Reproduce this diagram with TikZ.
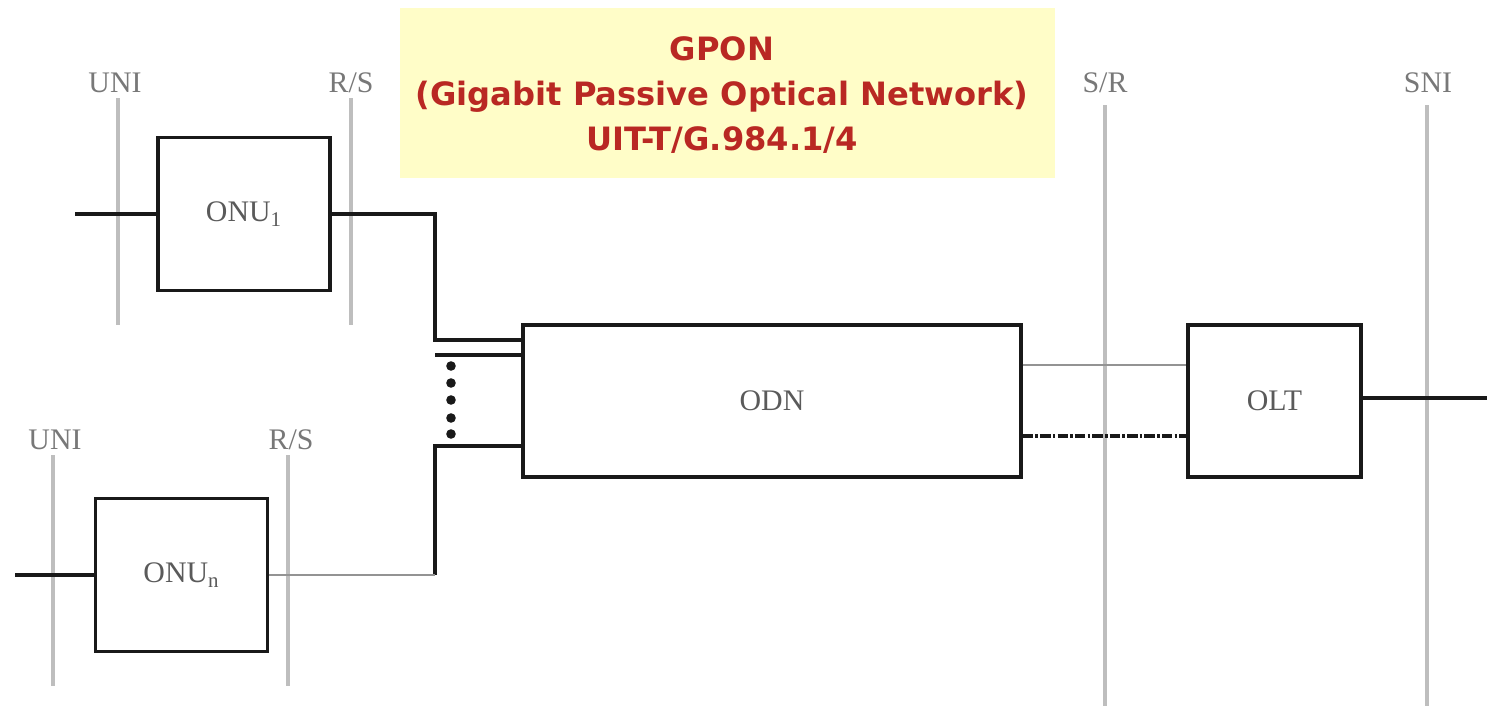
\documentclass[tikz,border=0pt]{standalone}
\usepackage{fontspec}
\setmainfont{Liberation Serif}
\newfontfamily\titlefont{DejaVu Sans}
\usepackage{xcolor}
\usetikzlibrary{positioning, calc}
\definecolor{gpRef}{RGB}{190,190,190}
\definecolor{gpLabel}{RGB}{120,120,120}
\definecolor{gpText}{RGB}{90,90,90}
\definecolor{gpTitle}{RGB}{185,40,35}
\definecolor{gpNote}{RGB}{255,253,200}
\definecolor{gpInk}{RGB}{25,25,25}

\begin{document}
\begin{tikzpicture}[x=0.02cm,y=-0.02cm,
  unit/.style={draw=gpInk,line width=2pt,fill=white,text=gpText,
               font=\fontsize{17}{20}\selectfont,inner sep=0pt},
  onu/.style={unit,minimum width=3.44cm,minimum height=3.06cm},
  refline/.style={draw=gpRef,line width=2.8pt},
  reflabel/.style={text=gpLabel,font=\fontsize{17}{19}\selectfont,inner sep=0pt},
  fib/.style={draw=gpInk,line width=2.1pt},
  thinfib/.style={draw=gray!85,line width=1.4pt},
  dashfib/.style={draw=gpInk,line width=2pt,
                  dash pattern=on 6pt off 1.2pt on 1.5pt off 1.2pt}]
\useasboundingbox (0,0) rectangle (1487,706);

% Title note
\node[fill=gpNote,minimum width=13.1cm,minimum height=3.4cm] (note) at (727.5,93) {};
\node[text=gpTitle,font=\titlefont\bfseries\fontsize{18.3}{25.5}\selectfont,align=center]
  (title) at (722,95) {GPON\\(Gigabit Passive Optical Network)\\UIT-T/G.984.1/4};

% Reference points (grey lines)
\node[reflabel] (uniA) at (115,83) {UNI};
\node[reflabel] (rsA)  at (351,83) {R/S};
\node[reflabel] (uniB) at (55,440) {UNI};
\node[reflabel] (rsB)  at (291,440) {R/S};
\node[reflabel] (sr)   at (1105,83) {S/R};
\node[reflabel] (sni)  at (1428,83) {SNI};
\coordinate (uniAend) at (118,325);
\coordinate (rsAend)  at (351,325);
\coordinate (uniBend) at (53,686);
\coordinate (rsBend)  at (288,686);
\coordinate (srend)   at (1105,706);
\coordinate (sniend)  at (1427,706);
\draw[refline] (uniA.south -| uniAend) ++(0,5) -- (uniAend);
\draw[refline] (rsA.south -| rsAend) ++(0,5) -- (rsAend);
\draw[refline] (uniB.south -| uniBend) ++(0,5) -- (uniBend);
\draw[refline] (rsB.south -| rsBend) ++(0,5) -- (rsBend);
\draw[refline] (sr.south -| srend) ++(0,12) -- (srend);
\draw[refline] (sni.south -| sniend) ++(0,12) -- (sniend);

% Units
\node[onu] (onu1) at (244,214) {ONU\textsubscript{1}};
\node[onu] (onun) at (181.5,575) {ONU\textsubscript{n}};
\node[unit,minimum width=9.96cm,minimum height=3.04cm] (odn) at (772,401) {ODN};
\node[unit,minimum width=3.46cm,minimum height=3.04cm] (olt) at (1274.5,401) {OLT};

% Drop lines on the user side
\coordinate (in1) at (75,214);
\coordinate (inn) at (15,575);
\draw[fib,line width=1.8pt] (in1) -- (onu1.west);
\draw[fib,line width=1.8pt] (inn) -- (onun.west);

% Splitter bus into the ODN
\coordinate (busTop) at (435,340);
\coordinate (busMid) at (435,355);
\coordinate (busBot) at (435,446);
\draw[fib] (onu1.east) -| (busTop) -- (busTop -| odn.west);
\draw[fib] (busMid) -- (busMid -| odn.west);
\draw[fib] (busBot -| odn.west) -- (busBot) -- (busBot |- onun.east);
\draw[thinfib] (busBot |- onun.east) -- (onun.east);
\foreach \y in {366,383,400,418,434}
  \fill[gpInk] (451,\y) circle (4.8);

% ODN to OLT, and OLT to the core
\draw[thinfib] (odn.east) ++(0,-36) coordinate (dn) -- (dn -| olt.west);
\draw[dashfib] (odn.east) ++(0,35) coordinate (up) -- (up -| olt.west);
\coordinate (core) at (1487,398);
\draw[fib,line width=1.8pt] (olt.east |- core) -- (core);
\end{tikzpicture}
\end{document}
